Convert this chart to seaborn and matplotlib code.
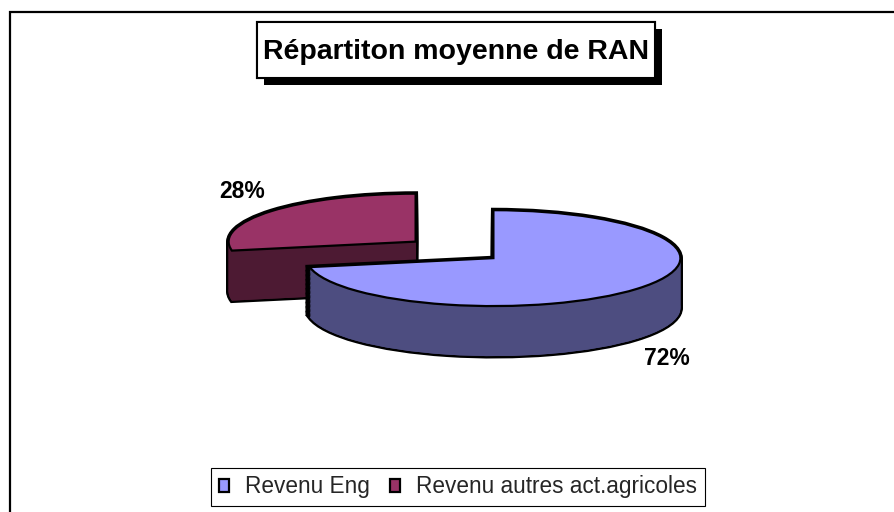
import matplotlib
matplotlib.use("Agg")
import matplotlib.pyplot as plt
import matplotlib.patheffects as pe
from matplotlib.patches import Rectangle
import numpy as np
import seaborn as sns

# Data
categories = ["Revenu Eng", "Revenu autres act.agricoles"]
shares = [72, 28]
top_colors = ["#9999FF", "#993366"]
side_colors = ["#4D4D80", "#4D1A33"]
explode = [0.1, 0.44]
title = "Répartiton moyenne de RAN"

sns.set_theme(style="white")
plt.rcParams["font.family"] = ["Liberation Sans", "DejaVu Sans"]

# Layout (figure pixels, y of the pie squashed to fake the tilt)
W, H = 895, 512
YS = 3.9
R = 187
CX, CY = 479, 1002
DEPTH = 195
N_LAYERS = 40
LABEL_DIST = 1.4
LABEL_ROT = -9  # degrees, labels sit a bit clockwise of the slice middle

fig = plt.figure(figsize=(W / 100, H / 100), dpi=100)
ax = fig.add_axes([0, 0, 1, 1])


def pie_layer(dy, colors, zorders, **wp):
    # pie's explode is in data units, so scale by the radius
    wedges, _ = ax.pie(shares, colors=colors, explode=[e * R for e in explode],
                       startangle=90, counterclock=False, radius=R,
                       center=(CX, CY - dy), frame=True, wedgeprops=wp)
    for w, z in zip(wedges, zorders):
        w.set_zorder(z)
    return wedges


# red slice sits behind the blue one
base = [10, 1]
depths = np.linspace(DEPTH, 0, N_LAYERS)
for dy in depths:  # outline pass, gives the silhouette
    pie_layer(dy, side_colors, [b for b in base], edgecolor="black", linewidth=3.5)
for dy in depths:  # fill pass hides the inner strokes
    pie_layer(dy, side_colors, [b + 1 for b in base], edgecolor="none", linewidth=0)
bottom = pie_layer(DEPTH, side_colors, [b + 1 for b in base], edgecolor="none", linewidth=0)
top = pie_layer(0, top_colors, [b + 2 for b in base], edgecolor="black", linewidth=1.6)

# percentage labels
for w, v in zip([bottom[0], top[1]], shares):
    mid = np.deg2rad((w.theta1 + w.theta2) / 2 + LABEL_ROT)
    x = w.center[0] + LABEL_DIST * w.r * np.cos(mid)
    y = w.center[1] + LABEL_DIST * w.r * np.sin(mid)
    ax.text(x, y, f"{v}%", ha="center", va="center", fontsize=16.5,
            fontweight="bold", color="black", zorder=30)

ax.set_aspect("auto")
ax.set_xlim(0, W)
ax.set_ylim(0, H * YS)
ax.axis("off")

# outer frame
fig.patches.append(Rectangle((10 / W, -0.1), 1.2, (H - 12) / H + 0.1,
                             transform=fig.transFigure, fill=False,
                             edgecolor="black", linewidth=1.6))

# title box with drop shadow
tbox = Rectangle((257 / W, 1 - 78 / H), 398 / W, 56 / H, transform=fig.transFigure,
                 facecolor="white", edgecolor="black", linewidth=1.5, zorder=5)
tbox.set_path_effects([pe.withSimplePatchShadow(offset=(5, -5), shadow_rgbFace="black", alpha=1),
                       pe.Normal()])
fig.patches.append(tbox)
fig.text(456 / W, 1 - 52 / H, title, ha="center", va="center", fontsize=20.5,
         fontweight="bold", color="black", zorder=6)

leg = fig.legend(top, categories, loc="center", bbox_to_anchor=(458 / W, 1 - 487 / H),
                 ncol=2, frameon=True, fancybox=False, framealpha=1, edgecolor="black",
                 fontsize=16.3, handlelength=0.45, handleheight=0.45, handletextpad=0.7,
                 columnspacing=0.9, borderpad=0.35)
leg.get_frame().set_linewidth(0.8)

fig.savefig("out.png", dpi=100, facecolor="white")
